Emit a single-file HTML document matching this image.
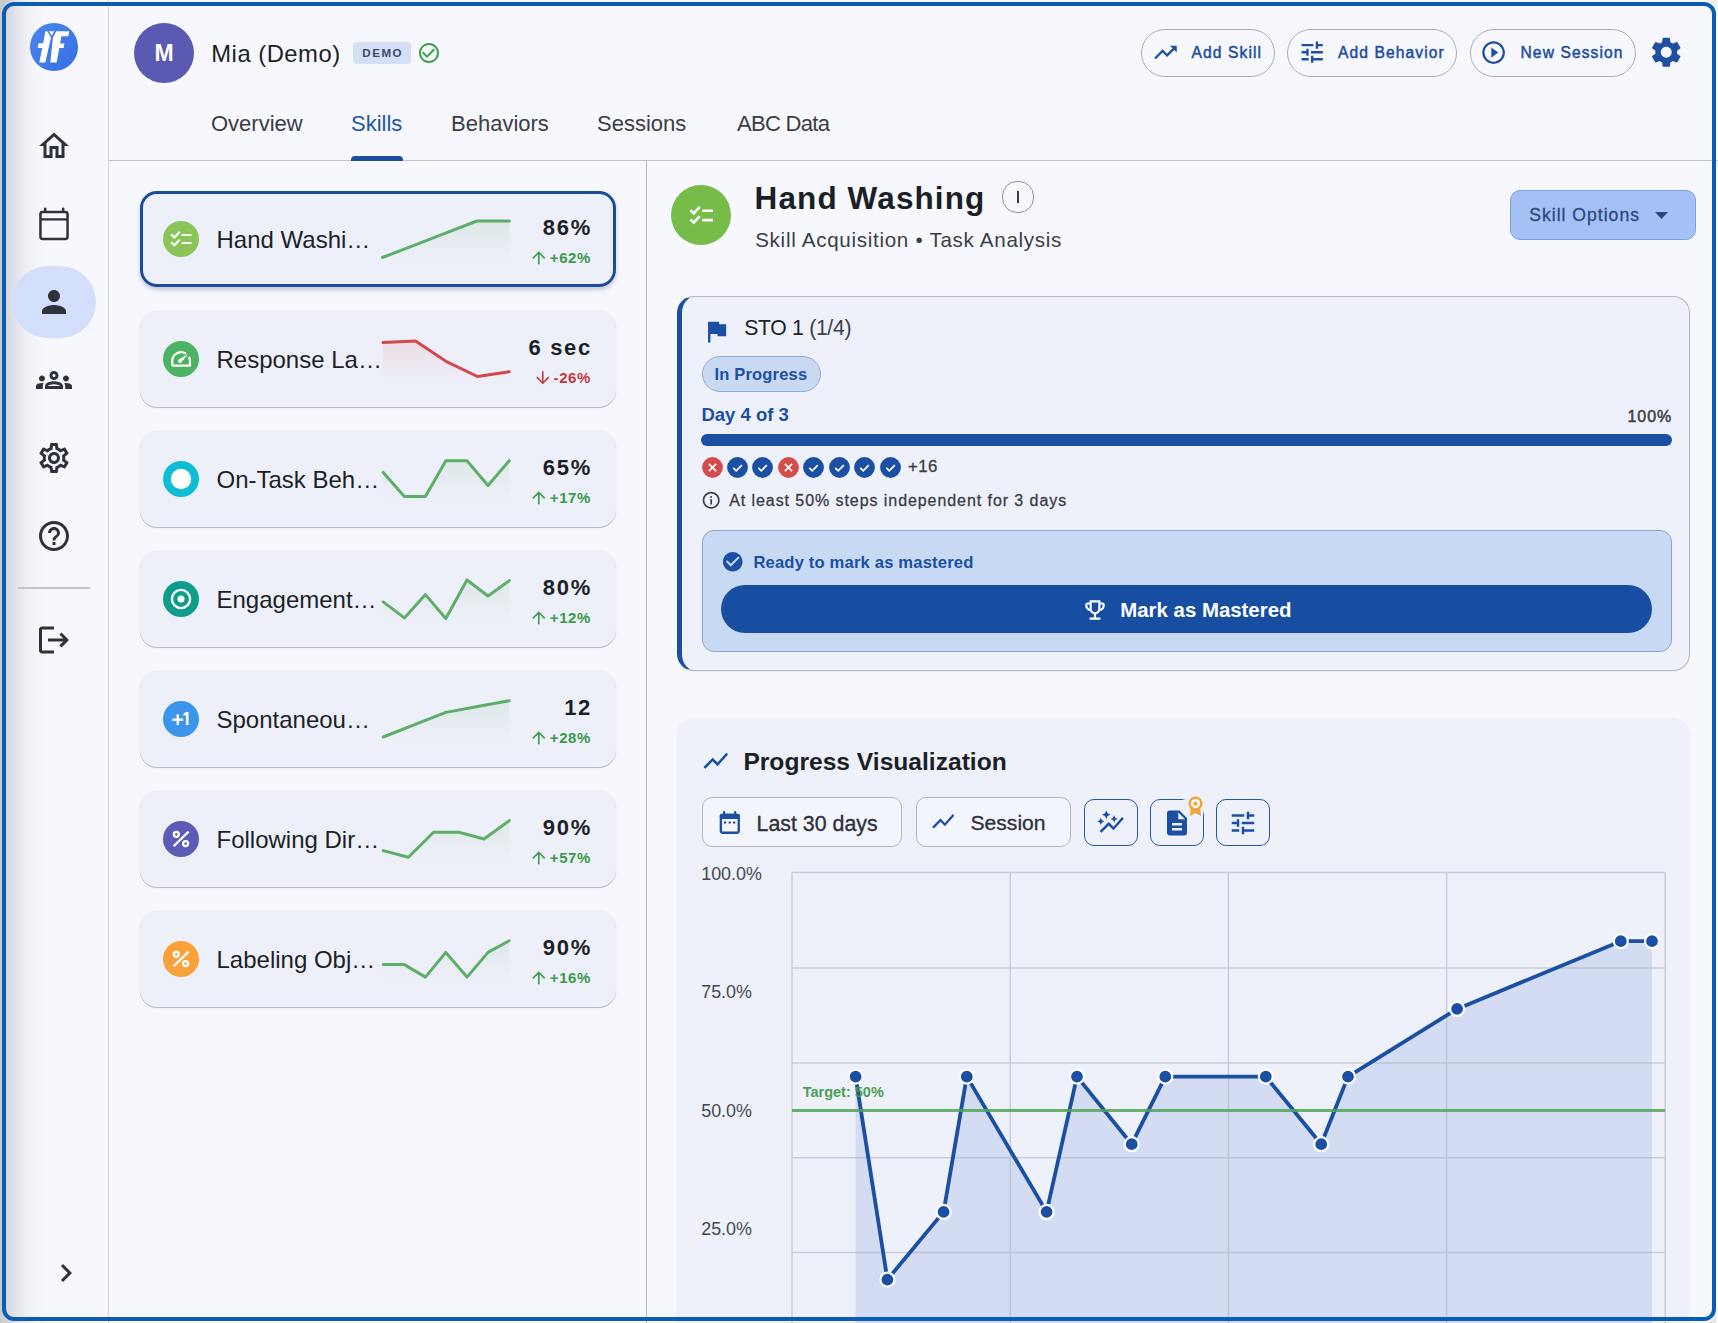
<!DOCTYPE html>
<html><head><meta charset="utf-8">
<style>
*{box-sizing:border-box;margin:0;padding:0}
html,body{width:1718px;height:1323px;overflow:hidden;background:#f7f8fd;font-family:"Liberation Sans",sans-serif;color:#1c1f26}
.abs{position:absolute}
#frame{position:absolute;left:2px;top:2px;width:1714px;height:1319px;border:4px solid #0a5cb6;border-radius:12px;pointer-events:none;z-index:50}

#sidebar{position:absolute;left:0;top:0;width:109px;height:1323px;border-right:1px solid #d3d6de;background:linear-gradient(90deg,#d6d3e0 5px,#dedde6 12px,#e6e7ee 19px,#eef0f6 27px,#f4f5fb 35px,#f7f8fd 44px)}
.sico{position:absolute;left:36px;width:36px;height:36px}
#header{position:absolute;left:109px;top:0;right:0;height:161px;border-bottom:1.5px solid #c0c3cc}
.tab{position:absolute;top:112.5px;font-size:22px;line-height:22px;color:#3a3d45;white-space:nowrap}
.hbtn{position:absolute;top:29.2px;height:47.4px;border:1.7px solid #abaeb7;border-radius:24px;color:#1f4f9e;font-size:15.6px;line-height:15.6px;-webkit-text-stroke:0.5px #1f4f9e;letter-spacing:1.1px}
.hbtn span{position:absolute;top:14.4px}
.hbtn svg{position:absolute}
#divider{position:absolute;left:645.9px;top:161px;width:1.2px;height:1162px;background:#b6b8c6}


.t{position:absolute;line-height:1;white-space:nowrap}
/*CARDCSS*/
.card{position:absolute;left:139.6px;width:476.3px;height:96px;border-radius:17px;background:#eef0f9;box-shadow:0 1px 0.6px rgba(70,75,100,0.32),0 1px 3px rgba(70,75,100,0.07),0 0 1px rgba(70,75,100,0.08)}
.card.sel{box-shadow:inset 0 0 0 3px #1a4b9d,0 3px 4px rgba(40,45,70,0.22)}
.card .ic{position:absolute;left:23.9px;top:30px;width:36px;height:36px;border-radius:50%;color:#fff;text-align:center;font-weight:bold}
.card .tt{position:absolute;left:76.9px;top:35px;font-size:24px;line-height:28px;color:#1c1f26;white-space:nowrap}
.card .val{position:absolute;right:23.9px;top:24px;font-size:22px;line-height:26px;font-weight:bold;color:#1c1f26;letter-spacing:1.7px}
.card .chg{position:absolute;right:24.9px;top:57.5px;font-size:15px;line-height:18px;font-weight:bold;color:#3a9a4a;letter-spacing:0.6px}
.card .chg svg{position:absolute;left:-21px;top:-1px}
.card .chg.red{color:#c4393b}
.card svg.spark{position:absolute;left:0.4px;top:0;width:475px;height:96px;overflow:visible}
/*/CARDCSS*/
</style></head>
<body>

<div id="sidebar">
<svg class="abs" style="left:24px;top:18px" width="60" height="60" viewBox="0 0 60 60">
<defs><linearGradient id="lg" x1="0" y1="0" x2="1" y2="1"><stop offset="0" stop-color="#4a86ec"/><stop offset="1" stop-color="#3570e4"/></linearGradient></defs>
<circle cx="30" cy="29" r="24" fill="url(#lg)"/>
<polygon fill="#fff" points="21.3,13.3 23.2,13.3 27.0,19.5 21.3,44.6 15.3,44.6 18.2,30 13.6,30 14.6,25.2 19.2,25.2"/>
<polygon fill="#fff" points="24.8,13.3 30.3,13.3 27.7,17.6"/>
<polygon fill="#fff" points="32.2,13.3 45.2,13.3 44.2,18.3 37.4,18.3 36.1,25.4 40.4,25.4 39.5,30 35.3,30 32.7,44.6 26.3,44.6 28.9,20"/>
</svg>
<svg class="sico" style="top:128px;width:36px;height:36px" viewBox="0 0 24 24"><path fill="#2e323c" d="M12 5.69l5 4.5V18h-2v-6H9v6H7v-7.81l5-4.5M12 3L2 12h3v8h6v-6h2v6h6v-8h3L12 3z"/></svg>
<svg class="abs" style="left:34px;top:202px" width="40" height="44" viewBox="0 0 40 44"><rect x="6.45" y="10.05" width="27.1" height="26.9" rx="2.2" fill="none" stroke="#2e323c" stroke-width="2.5"/><path d="M6.45 17.4H33.55" stroke="#2e323c" stroke-width="2.3"/><rect x="9.9" y="5.4" width="2.5" height="4.5" rx="1.2" fill="#2e323c"/><rect x="27.9" y="5.4" width="2.5" height="4.5" rx="1.2" fill="#2e323c"/></svg>
<div class="abs" style="left:12px;top:266px;width:84px;height:72px;border-radius:36px;background:#d3defa"></div>
<svg class="sico" style="top:284px;width:36px;height:36px" viewBox="0 0 24 24"><path fill="#2e323c" d="M12 12c2.21 0 4-1.79 4-4s-1.79-4-4-4-4 1.79-4 4 1.79 4 4 4zm0 2c-2.67 0-8 1.34-8 4v2h16v-2c0-2.66-5.33-4-8-4z"/></svg>
<svg class="sico" style="top:362px;width:36px;height:36px" viewBox="0 0 24 24"><path fill="#2e323c" d="M4 13c1.1 0 2-.9 2-2s-.9-2-2-2-2 .9-2 2 .9 2 2 2zm1.13 1.1c-.37-.06-.74-.1-1.13-.1-.99 0-1.93.21-2.78.58C.48 14.9 0 15.62 0 16.43V18h4.5v-1.61c0-.83.23-1.61.63-2.290zM20 13c1.1 0 2-.9 2-2s-.9-2-2-2-2 .9-2 2 .9 2 2 2zm4 3.43c0-.81-.48-1.530-1.220-1.850-.85-.37-1.790-.58-2.780-.58-.39 0-.76.04-1.130.1.4.68.63 1.460.63 2.290V18H24v-1.57zm-7.76-2.78c-1.17-.52-2.610-.9-4.240-.9-1.63 0-3.070.39-4.240.9C6.68 14.13 6 15.21 6 16.39V18h12v-1.61c0-1.18-.68-2.260-1.760-2.740zM8.07 16c.09-.23.13-.39.91-.69.97-.38 1.99-.56 3.02-.56s2.05.18 3.02.56c.77.3.81.46.91.69H8.070zM12 8c.55 0 1 .45 1 1s-.45 1-1 1-1-.45-1-1 .45-1 1-1m0-2c-1.66 0-3 1.34-3 3s1.34 3 3 3 3-1.34 3-3-1.34-3-3-3z"/></svg>
<svg class="sico" style="top:440px;width:36px;height:36px" viewBox="0 0 24 24"><path fill="#2e323c" d="M19.43 12.98c.04-.32.07-.64.07-.98 0-.34-.03-.66-.07-.98l2.11-1.65c.19-.15.24-.42.12-.64l-2-3.46c-.09-.16-.26-.25-.44-.25-.06 0-.12.01-.17.03l-2.49 1c-.52-.4-1.08-.73-1.69-.98l-.38-2.65C14.46 2.18 14.25 2 14 2h-4c-.25 0-.46.18-.49.42l-.38 2.65c-.61.25-1.170.59-1.690.98l-2.49-1c-.06-.02-.12-.03-.18-.03-.17 0-.34.09-.43.25l-2 3.46c-.13.22-.07.49.12.64l2.11 1.65c-.04.32-.07.65-.07.98 0 .33.03.66.07.98l-2.11 1.65c-.19.15-.24.42-.12.64l2 3.46c.09.16.26.25.44.25.06 0 .12-.01.17-.03l2.49-1c.52.4 1.08.73 1.69.98l.38 2.65c.03.24.24.42.49.42h4c.25 0 .46-.18.49-.42l.38-2.65c.61-.25 1.17-.59 1.69-.98l2.49 1c.06.02.12.03.18.03.17 0 .34-.09.43-.25l2-3.46c.12-.22.07-.49-.12-.64l-2.11-1.65zm-1.98-1.71c.04.31.05.52.05.73 0 .21-.02.43-.05.73l-.14 1.13.89.7 1.08.84-.7 1.21-1.27-.51-1.04-.42-.9.68c-.43.32-.84.56-1.25.73l-1.06.43-.16 1.13-.2 1.35h-1.4l-.19-1.35-.16-1.13-1.06-.43c-.43-.18-.83-.41-1.23-.71l-.91-.7-1.06.43-1.27.51-.7-1.21 1.08-.84.89-.7-.14-1.13c-.03-.31-.05-.54-.05-.74s.02-.43.05-.73l.14-1.13-.89-.7-1.08-.84.7-1.21 1.27.51 1.04.42.9-.68c.43-.32.84-.56 1.25-.73l1.06-.43.16-1.13.2-1.35h1.39l.19 1.35.16 1.13 1.06.43c.43.18.83.41 1.23.71l.91.7 1.06-.43 1.27-.51.7 1.21-1.07.85-.89.7.14 1.13zM12 8c-2.21 0-4 1.79-4 4s1.79 4 4 4 4-1.79 4-4-1.79-4-4-4zm0 6c-1.1 0-2-.9-2-2s.9-2 2-2 2 .9 2 2-.9 2-2 2z"/></svg>
<svg class="sico" style="top:518px;width:36px;height:36px" viewBox="0 0 24 24"><path fill="#2e323c" d="M11 18h2v-2h-2v2zm1-16C6.48 2 2 6.48 2 12s4.48 10 10 10 10-4.48 10-10S17.52 2 12 2zm0 18c-4.41 0-8-3.59-8-8s3.59-8 8-8 8 3.59 8 8-3.59 8-8 8zm0-14c-2.21 0-4 1.79-4 4h2c0-1.1.9-2 2-2s2 .9 2 2c0 2-3 1.75-3 5h2c0-2.25 3-2.5 3-5 0-2.21-1.79-4-4-4z"/></svg>
<div class="abs" style="left:18px;top:587px;width:72px;height:1.5px;background:#c2c5cd"></div>
<svg class="sico" style="top:622px;width:36px;height:36px" viewBox="0 0 24 24"><path fill="#2e323c" d="M17 7l-1.41 1.41L18.17 11H8v2h10.17l-2.58 2.580L17 17l5-5zM4 5h8V3H4c-1.1 0-2 .9-2 2v14c0 1.1.9 2 2 2h8v-2H4V5z"/></svg>
<svg class="sico" style="left:48px;top:1255px;width:36px;height:36px" viewBox="0 0 24 24"><path fill="#2e323c" d="M10 6L8.59 7.41 13.17 12l-4.58 4.59L10 18l6-6z"/></svg>
</div>

<div id="header">
<div class="abs" style="left:25px;top:23px;width:60px;height:60px;border-radius:50%;background:#5a5ab3;color:#fff;font-weight:bold;font-size:23px;text-align:center;line-height:61px">M</div>
<div class="abs" style="left:102.3px;top:41.8px;font-size:23.8px;line-height:24px;letter-spacing:0.5px;color:#1c1f26;white-space:nowrap">Mia (Demo)</div>
<div class="abs" style="left:244px;top:42.3px;width:58px;height:21.5px;border-radius:4px;background:#d4def6;color:#3d4a66;font-weight:bold;font-size:11.6px;letter-spacing:1.5px;text-indent:1.5px;text-align:center;line-height:22px">DEMO</div>
<svg class="abs" style="left:308px;top:41px" width="24" height="24" viewBox="0 0 24 24" fill="#3aa047"><path d="M16.59 7.58L10 14.17l-3.59-3.58L5 12l5 5 8-8zM12 2C6.48 2 2 6.48 2 12s4.48 10 10 10 10-4.48 10-10S17.52 2 12 2zm0 18c-4.42 0-8-3.58-8-8s3.58-8 8-8 8 3.58 8 8-3.58 8-8 8z"/></svg>
<div class="tab" style="left:102px">Overview</div>
<div class="tab" style="left:242px;color:#1f56a8">Skills</div>
<div class="tab" style="left:342px">Behaviors</div>
<div class="tab" style="left:488px">Sessions</div>
<div class="tab" style="left:628px;letter-spacing:-0.7px">ABC Data</div>
<div class="abs" style="left:242px;top:156px;width:52px;height:4.8px;border-radius:4px 4px 0 0;background:#1b4f9f"></div>
</div>
<div class="hbtn" style="left:1141px;width:134px"><svg style="left:10.3px;top:9px" width="27" height="27" viewBox="0 0 24 24" fill="#1f4f9e"><path d="M16 6l2.29 2.29-4.88 4.88-4-4L2 16.59 3.41 18l6-6 4 4 6.3-6.29L22 12V6z"/></svg><span style="left:49.5px">Add Skill</span></div>
<div class="hbtn" style="left:1287px;width:170px"><svg style="left:9.7px;top:8.3px" width="28.4" height="28.4" viewBox="0 0 24 24" fill="#1f4f9e"><path d="M3 17v2h6v-2H3zM3 5v2h10V5H3zm10 16v-2h8v-2h-8v-2h-2v6h2zM7 9v2H3v2h4v2h2V9H7zm14 4v-2H11v2h10zm-6-4h2V7h4V5h-4V3h-2v6z"/></svg><span style="left:50px">Add Behavior</span></div>
<div class="hbtn" style="left:1470px;width:166px"><svg style="left:9.2px;top:8.5px" width="27.2" height="27.2" viewBox="0 0 24 24" fill="#1f4f9e"><path d="M10 16.5l6-4.5-6-4.5v9zM12 2C6.48 2 2 6.48 2 12s4.48 10 10 10 10-4.48 10-10S17.52 2 12 2zm0 18c-4.41 0-8-3.59-8-8s3.59-8 8-8 8 3.59 8 8-3.59 8-8 8z"/></svg><span style="left:49.5px">New Session</span></div>
<svg class="abs" style="left:1647.8px;top:34.4px" width="36.5" height="36.5" viewBox="0 0 24 24" fill="#1f4f9e"><path d="M19.14 12.94c.04-.3.06-.61.06-.94 0-.32-.02-.64-.07-.94l2.03-1.58c.18-.14.23-.41.12-.61l-1.92-3.32c-.12-.22-.37-.29-.59-.22l-2.39.96c-.5-.38-1.03-.7-1.62-.94l-.36-2.54c-.04-.24-.24-.41-.48-.41h-3.84c-.24 0-.43.17-.47.41l-.36 2.54c-.59.24-1.13.57-1.62.94l-2.39-.96c-.22-.08-.47 0-.59.22L2.74 8.87c-.12.21-.08.47.12.61l2.03 1.58c-.05.3-.09.63-.09.94s.02.64.07.94l-2.03 1.58c-.18.14-.23.41-.12.61l1.92 3.32c.12.22.37.29.59.22l2.39-.96c.5.38 1.03.7 1.62.94l.36 2.54c.05.24.24.41.48.41h3.84c.24 0 .44-.17.47-.41l.36-2.54c.59-.24 1.13-.56 1.62-.94l2.39.96c.22.08.47 0 .59-.22l1.92-3.32c.12-.22.07-.47-.12-.61l-2.01-1.58zM12 15.6c-1.98 0-3.6-1.62-3.6-3.6s1.62-3.6 3.6-3.6 3.6 1.62 3.6 3.6-1.62 3.6-3.6 3.6z"/></svg>

<div id="divider"></div>
<!--CARDS-->
<div class="card sel" style="top:191px">
<div class="ic" style="background:#8bc55a"><svg width="36" height="36" viewBox="0 0 36 36"><g fill="none" stroke="#fff" stroke-width="2.1"><path d="M8.2 13.4l3.3 3 5.2-5.6"/><path d="M8.2 21.2l3.3 3 5.2-5.6"/><path d="M18.6 14h9.8M18.6 22h9.8"/></g></svg></div>
<div class="tt">Hand Washi…</div>
<svg class="spark"><defs><linearGradient id="sg0" x1="0" y1="0" x2="0" y2="1"><stop offset="0" stop-color="#5eae69" stop-opacity="0.12"/><stop offset="1" stop-color="#5eae69" stop-opacity="0"/></linearGradient></defs><path d="M242.4 66.5 L274.0 54.3 L305.5 42.2 L337.0 30.0 L369.5 30.0 L369.5 70 L242.4 70 Z" fill="url(#sg0)"/><path d="M242.4 66.5 L274.0 54.3 L305.5 42.2 L337.0 30.0 L369.5 30.0" fill="none" stroke="#5eae69" stroke-width="3" stroke-linejoin="round" stroke-linecap="round"/></svg>
<div class="val">86%</div>
<div class="chg"><svg width="19.5" height="19.5" viewBox="0 0 24 24"><path fill="currentColor" d="M4 12l1.41 1.41L11 7.83V20h2V7.83l5.58 5.59L20 12l-8-8-8 8z"/></svg>+62%</div>
</div>
<div class="card " style="top:311px">
<div class="ic" style="background:#4db262"><svg width="36" height="36" viewBox="0 0 36 36"><path d="M9.2 24.7V20.2A8.9 8.9 0 0 1 22.95 12.74M25.81 15.75A8.9 8.9 0 0 1 27 20.2V24.7H9.2" fill="none" stroke="#fff" stroke-width="2.2" stroke-linejoin="round"/><path fill="#fff" d="M15.7 18.6L25.2 12.9L18.1 21.4A1.8 1.8 0 0 1 15.7 18.6Z"/></svg></div>
<div class="tt">Response La…</div>
<svg class="spark"><defs><linearGradient id="sg1" x1="0" y1="0" x2="0" y2="1"><stop offset="0" stop-color="#cf4a4c" stop-opacity="0.12"/><stop offset="1" stop-color="#cf4a4c" stop-opacity="0"/></linearGradient></defs><path d="M243.0 31.6 L275.5 30.0 L306.0 50.3 L337.5 65.5 L369.2 60.8 L369.2 70 L243.0 70 Z" fill="url(#sg1)"/><path d="M243.0 31.6 L275.5 30.0 L306.0 50.3 L337.5 65.5 L369.2 60.8" fill="none" stroke="#cf4a4c" stroke-width="3" stroke-linejoin="round" stroke-linecap="round"/></svg>
<div class="val">6 sec</div>
<div class="chg red"><svg width="19.5" height="19.5" viewBox="0 0 24 24"><path fill="currentColor" d="M20 12l-1.41-1.41L13 16.17V4h-2v12.17l-5.58-5.59L4 12l8 8 8-8z"/></svg>-26%</div>
</div>
<div class="card " style="top:431px">
<div class="ic" style="background:#0fbcd6"><svg width="36" height="36" viewBox="0 0 36 36"><circle cx="18" cy="18" r="10.2" fill="#fff"/></svg></div>
<div class="tt">On-Task Beh…</div>
<svg class="spark"><defs><linearGradient id="sg2" x1="0" y1="0" x2="0" y2="1"><stop offset="0" stop-color="#5eae69" stop-opacity="0.12"/><stop offset="1" stop-color="#5eae69" stop-opacity="0"/></linearGradient></defs><path d="M243.2 41.4 L264.4 65.5 L285.4 65.5 L305.8 29.7 L327.0 29.7 L348.0 54.5 L369.2 29.7 L369.2 70 L243.2 70 Z" fill="url(#sg2)"/><path d="M243.2 41.4 L264.4 65.5 L285.4 65.5 L305.8 29.7 L327.0 29.7 L348.0 54.5 L369.2 29.7" fill="none" stroke="#5eae69" stroke-width="3" stroke-linejoin="round" stroke-linecap="round"/></svg>
<div class="val">65%</div>
<div class="chg"><svg width="19.5" height="19.5" viewBox="0 0 24 24"><path fill="currentColor" d="M4 12l1.41 1.41L11 7.83V20h2V7.83l5.58 5.59L20 12l-8-8-8 8z"/></svg>+17%</div>
</div>
<div class="card " style="top:551px">
<div class="ic" style="background:#0f9d8b"><svg width="36" height="36" viewBox="0 0 36 36"><circle cx="18" cy="18" r="9.1" fill="none" stroke="#fff" stroke-width="2.4"/><circle cx="18" cy="18" r="3.5" fill="#fff"/></svg></div>
<div class="tt">Engagement…</div>
<svg class="spark"><defs><linearGradient id="sg3" x1="0" y1="0" x2="0" y2="1"><stop offset="0" stop-color="#5eae69" stop-opacity="0.12"/><stop offset="1" stop-color="#5eae69" stop-opacity="0"/></linearGradient></defs><path d="M243.2 50.9 L264.4 66.9 L285.4 43.6 L305.8 67.5 L327.0 29.0 L348.0 45.0 L369.2 29.7 L369.2 70 L243.2 70 Z" fill="url(#sg3)"/><path d="M243.2 50.9 L264.4 66.9 L285.4 43.6 L305.8 67.5 L327.0 29.0 L348.0 45.0 L369.2 29.7" fill="none" stroke="#5eae69" stroke-width="3" stroke-linejoin="round" stroke-linecap="round"/></svg>
<div class="val">80%</div>
<div class="chg"><svg width="19.5" height="19.5" viewBox="0 0 24 24"><path fill="currentColor" d="M4 12l1.41 1.41L11 7.83V20h2V7.83l5.58 5.59L20 12l-8-8-8 8z"/></svg>+12%</div>
</div>
<div class="card " style="top:671px">
<div class="ic" style="background:#3d94eb"><svg width="36" height="36" viewBox="0 0 36 36"><g fill="#fff"><rect x="9.4" y="17.5" width="10.8" height="2.4"/><rect x="13.6" y="13.3" width="2.4" height="10.8"/><path d="M22.9 11h2.6v13.1h-2.6V14.1l-2.4 0.9v-2.3z"/></g></svg></div>
<div class="tt">Spontaneou…</div>
<svg class="spark"><defs><linearGradient id="sg4" x1="0" y1="0" x2="0" y2="1"><stop offset="0" stop-color="#5eae69" stop-opacity="0.12"/><stop offset="1" stop-color="#5eae69" stop-opacity="0"/></linearGradient></defs><path d="M243.2 66.0 L274.6 53.7 L305.8 41.4 L337.5 35.5 L369.2 29.7 L369.2 70 L243.2 70 Z" fill="url(#sg4)"/><path d="M243.2 66.0 L274.6 53.7 L305.8 41.4 L337.5 35.5 L369.2 29.7" fill="none" stroke="#5eae69" stroke-width="3" stroke-linejoin="round" stroke-linecap="round"/></svg>
<div class="val">12</div>
<div class="chg"><svg width="19.5" height="19.5" viewBox="0 0 24 24"><path fill="currentColor" d="M4 12l1.41 1.41L11 7.83V20h2V7.83l5.58 5.59L20 12l-8-8-8 8z"/></svg>+28%</div>
</div>
<div class="card " style="top:791px">
<div class="ic" style="background:#5c5bb6"><svg width="36" height="36" viewBox="0 0 36 36"><g fill="none" stroke="#fff" stroke-width="2.3"><circle cx="13.3" cy="13.3" r="2.5"/><circle cx="22.6" cy="22.6" r="2.5"/><path d="M10.6 25.2L25.6 10.6"/></g></svg></div>
<div class="tt">Following Dir…</div>
<svg class="spark"><defs><linearGradient id="sg5" x1="0" y1="0" x2="0" y2="1"><stop offset="0" stop-color="#5eae69" stop-opacity="0.12"/><stop offset="1" stop-color="#5eae69" stop-opacity="0"/></linearGradient></defs><path d="M243.2 59.6 L268.4 66.3 L293.6 41.3 L318.8 41.3 L344.0 48.0 L369.2 29.7 L369.2 70 L243.2 70 Z" fill="url(#sg5)"/><path d="M243.2 59.6 L268.4 66.3 L293.6 41.3 L318.8 41.3 L344.0 48.0 L369.2 29.7" fill="none" stroke="#5eae69" stroke-width="3" stroke-linejoin="round" stroke-linecap="round"/></svg>
<div class="val">90%</div>
<div class="chg"><svg width="19.5" height="19.5" viewBox="0 0 24 24"><path fill="currentColor" d="M4 12l1.41 1.41L11 7.83V20h2V7.83l5.58 5.59L20 12l-8-8-8 8z"/></svg>+57%</div>
</div>
<div class="card " style="top:911px">
<div class="ic" style="background:#f9a23c"><svg width="36" height="36" viewBox="0 0 36 36"><g fill="none" stroke="#fff" stroke-width="2.3"><circle cx="13.3" cy="13.3" r="2.5"/><circle cx="22.6" cy="22.6" r="2.5"/><path d="M10.6 25.2L25.6 10.6"/></g></svg></div>
<div class="tt">Labeling Obj…</div>
<svg class="spark"><defs><linearGradient id="sg6" x1="0" y1="0" x2="0" y2="1"><stop offset="0" stop-color="#5eae69" stop-opacity="0.12"/><stop offset="1" stop-color="#5eae69" stop-opacity="0"/></linearGradient></defs><path d="M243.2 53.6 L264.4 53.6 L285.4 66.1 L305.8 41.4 L327.0 66.1 L348.0 41.4 L369.2 29.7 L369.2 70 L243.2 70 Z" fill="url(#sg6)"/><path d="M243.2 53.6 L264.4 53.6 L285.4 66.1 L305.8 41.4 L327.0 66.1 L348.0 41.4 L369.2 29.7" fill="none" stroke="#5eae69" stroke-width="3" stroke-linejoin="round" stroke-linecap="round"/></svg>
<div class="val">90%</div>
<div class="chg"><svg width="19.5" height="19.5" viewBox="0 0 24 24"><path fill="currentColor" d="M4 12l1.41 1.41L11 7.83V20h2V7.83l5.58 5.59L20 12l-8-8-8 8z"/></svg>+16%</div>
</div>
<!--/CARDS-->

<!--RIGHT-->
<div class="abs" style="left:671.4px;top:185px;width:60px;height:60px;border-radius:50%;background:#77bb48"></div>
<svg class="abs" style="left:670px;top:184px" width="62" height="62" viewBox="0 0 62 62"><g fill="none" stroke="#fff" stroke-width="2.6"><path d="M20.4 26.1l3.4 3.3 5.9-6.5"/><path d="M20.4 35.4l3.4 3.3 5.9-6.5"/><path d="M32.2 26.8h10.7M32.2 36.1h10.7"/></g></svg>
<div class="t " style="left:754.6px;top:182.6px;font-size:31.5px;font-weight:bold;color:#1c1f26;letter-spacing:1.1px">Hand Washing</div>
<div class="abs" style="left:1002px;top:180.6px;width:32px;height:32px;border-radius:15px;border:1.6px solid #909299"></div><div class="abs" style="left:1017px;top:191px;width:2px;height:12px;background:#3a3d45"></div>
<div class="t " style="left:755.2px;top:229.6px;font-size:20.6px;color:#3a3e48;letter-spacing:0.7px">Skill Acquisition • Task Analysis</div>
<div class="abs" style="left:1510px;top:189.5px;width:186px;height:50.5px;border-radius:10px;background:#a4c0f5;border:1.5px solid #7c9fe2"></div>
<div class="t " style="left:1529.2px;top:206.8px;font-size:17.6px;color:#28487e;letter-spacing:1.0px;-webkit-text-stroke:0.3px #28487e">Skill Options</div>
<svg class="abs" style="left:1655px;top:212px" width="13" height="7" viewBox="0 0 13 7"><path d="M0 0h13L6.5 7z" fill="#28487e"/></svg>
<div class="abs" style="left:677.3px;top:296.4px;width:1012.4px;height:374.4px;border-radius:17px;background:#eff1fa;border:1.5px solid #b4b8c3;border-left:5.5px solid #1a4fa3;box-shadow:0 1px 2px rgba(0,0,0,0.06)"></div>
<svg class="abs" style="left:701.7px;top:316.8px" width="29" height="29" viewBox="0 0 24 24" fill="#1a4fa3"><path d="M14.4 6L14 4H5v17h2v-7h5.6l.4 2h7V6z"/></svg>
<div class="t " style="left:744.2px;top:316.7px;font-size:21.2px;color:#1c1f26;letter-spacing:-0.3px">STO 1 <span style="color:#3d4049">(1/4)</span></div>
<div class="abs" style="left:702px;top:356.4px;width:119px;height:35.2px;border-radius:18px;background:#c8d9f1;border:1.2px solid #8dadde"></div>
<div class="t " style="left:714.4px;top:366.4px;font-size:16.5px;color:#1a4fa3;font-weight:bold;letter-spacing:0.2px">In Progress</div>
<div class="t " style="left:701.4px;top:405.9px;font-size:18.5px;color:#1a4fa3;font-weight:bold">Day 4 of 3</div>
<div class="t " style="right:45.7px;top:409.4px;font-size:16px;color:#3d4049;letter-spacing:1px;-webkit-text-stroke:0.5px #3d4049">100%</div>
<div class="abs" style="left:701.1px;top:434px;width:971px;height:11.8px;border-radius:6px;background:#1a4fa3"></div>
<svg class="abs" style="left:701.5px;top:456.7px" width="21" height="21" viewBox="0 0 21 21"><circle cx="10.5" cy="10.5" r="10.4" fill="#d44d4e"/><path d="M6.9 6.9l7.2 7.2M14.1 6.9l-7.2 7.2" stroke="#fff" stroke-width="1.7"/></svg>
<svg class="abs" style="left:726.8px;top:456.7px" width="21" height="21" viewBox="0 0 21 21"><circle cx="10.5" cy="10.5" r="10.4" fill="#1a4fa3"/><path d="M6.3 10.9l2.9 2.9 5.6-5.7" fill="none" stroke="#fff" stroke-width="1.7"/></svg>
<svg class="abs" style="left:752.3px;top:456.7px" width="21" height="21" viewBox="0 0 21 21"><circle cx="10.5" cy="10.5" r="10.4" fill="#1a4fa3"/><path d="M6.3 10.9l2.9 2.9 5.6-5.7" fill="none" stroke="#fff" stroke-width="1.7"/></svg>
<svg class="abs" style="left:777.8px;top:456.7px" width="21" height="21" viewBox="0 0 21 21"><circle cx="10.5" cy="10.5" r="10.4" fill="#d44d4e"/><path d="M6.9 6.9l7.2 7.2M14.1 6.9l-7.2 7.2" stroke="#fff" stroke-width="1.7"/></svg>
<svg class="abs" style="left:803.2px;top:456.7px" width="21" height="21" viewBox="0 0 21 21"><circle cx="10.5" cy="10.5" r="10.4" fill="#1a4fa3"/><path d="M6.3 10.9l2.9 2.9 5.6-5.7" fill="none" stroke="#fff" stroke-width="1.7"/></svg>
<svg class="abs" style="left:828.7px;top:456.7px" width="21" height="21" viewBox="0 0 21 21"><circle cx="10.5" cy="10.5" r="10.4" fill="#1a4fa3"/><path d="M6.3 10.9l2.9 2.9 5.6-5.7" fill="none" stroke="#fff" stroke-width="1.7"/></svg>
<svg class="abs" style="left:854.2px;top:456.7px" width="21" height="21" viewBox="0 0 21 21"><circle cx="10.5" cy="10.5" r="10.4" fill="#1a4fa3"/><path d="M6.3 10.9l2.9 2.9 5.6-5.7" fill="none" stroke="#fff" stroke-width="1.7"/></svg>
<svg class="abs" style="left:879.6px;top:456.7px" width="21" height="21" viewBox="0 0 21 21"><circle cx="10.5" cy="10.5" r="10.4" fill="#1a4fa3"/><path d="M6.3 10.9l2.9 2.9 5.6-5.7" fill="none" stroke="#fff" stroke-width="1.7"/></svg>
<div class="t " style="left:907.9px;top:459.3px;font-size:16.8px;color:#3a3d45;letter-spacing:0.5px;-webkit-text-stroke:0.3px #3a3d45">+16</div>
<svg class="abs" style="left:701.3px;top:490px" width="20.4" height="20.4" viewBox="0 0 24 24" fill="#3a3d45"><path d="M11 7h2v2h-2zm0 4h2v6h-2zm1-9C6.48 2 2 6.48 2 12s4.48 10 10 10 10-4.48 10-10S17.52 2 12 2zm0 18c-4.41 0-8-3.59-8-8s3.59-8 8-8 8 3.59 8 8-3.59 8-8 8z"/></svg>
<div class="t " style="left:729.2px;top:493.1px;font-size:16px;color:#3a3d45;letter-spacing:0.93px;-webkit-text-stroke:0.3px #3a3d45">At least 50% steps independent for 3 days</div>
<div class="abs" style="left:701.6px;top:530.2px;width:970.4px;height:122.3px;border-radius:12px;background:#c8daf3;border:1.3px solid #8aa4cd"></div>
<svg class="abs" style="left:721px;top:550px" width="23.5" height="23.5" viewBox="0 0 24 24" fill="#1a4fa3"><path d="M12 2C6.48 2 2 6.48 2 12s4.48 10 10 10 10-4.48 10-10S17.52 2 12 2zm-2 15l-5-5 1.41-1.41L10 14.17l7.59-7.59L19 8l-9 9z"/></svg>
<div class="t " style="left:753.4px;top:554.8px;font-size:16.6px;color:#1a4fa3;font-weight:bold;letter-spacing:0.17px">Ready to mark as mastered</div>
<div class="abs" style="left:720.8px;top:585.4px;width:931.7px;height:48px;border-radius:24px;background:#174ea2"></div>
<svg class="abs" style="left:1081.5px;top:596.5px" width="26" height="26" viewBox="0 0 24 24" fill="#fff"><path d="M19 5h-2V3H7v2H5c-1.1 0-2 .9-2 2v1c0 2.55 1.92 4.63 4.39 4.94.63 1.5 1.98 2.63 3.61 2.96V19H7v2h10v-2h-4v-3.1c1.63-.33 2.98-1.46 3.61-2.96C19.08 12.63 21 10.55 21 8V7c0-1.1-.9-2-2-2zM5 8V7h2v3.82C5.84 10.4 5 9.3 5 8zm7 6c-1.65 0-3-1.35-3-3V5h6v6c0 1.65-1.35 3-3 3zm7-6c0 1.3-.84 2.4-2 2.82V7h2v1z"/></svg>
<div class="t " style="left:1120.3px;top:599.7px;font-size:20.4px;color:#fff;font-weight:bold">Mark as Mastered</div>
<div class="abs" style="left:677.1px;top:718.1px;width:1013px;height:700px;border-radius:18px;background:#eef1fa;box-shadow:0 0 2px rgba(60,70,100,0.07)"></div>
<svg class="abs" style="left:701.4px;top:746.1px" width="29.5" height="29.5" viewBox="0 0 24 24" fill="#1a4fa3"><path d="M3.5 18.49l6-6.01 4 4L22 6.92l-1.41-1.41-7.09 7.97-4-4L2 16.99z"/></svg>
<div class="t " style="left:743.4px;top:750.4px;font-size:24.6px;color:#1c1f26;font-weight:bold">Progress Visualization</div>
<div class="abs" style="left:701.9px;top:797.3px;width:200.2px;height:49.4px;border-radius:10px;border:1.6px solid #b3b7c2;background:#f3f5fc"></div>
<svg class="abs" style="left:712px;top:806px" width="36" height="34" viewBox="0 0 36 34"><rect x="8.85" y="8.85" width="17.9" height="17.9" rx="2" fill="none" stroke="#1a4fa3" stroke-width="2.3"/><rect x="7.7" y="7.7" width="20.2" height="5.2" rx="2" fill="#1a4fa3"/><rect x="11.1" y="5.1" width="2.1" height="3.5" rx="0.8" fill="#1a4fa3"/><rect x="22.1" y="5.1" width="2.1" height="3.5" rx="0.8" fill="#1a4fa3"/><g fill="#2a3a6a"><rect x="11.9" y="15.4" width="2.2" height="2.2" rx="0.5"/><rect x="16.6" y="15.4" width="2.2" height="2.2" rx="0.5"/><rect x="21" y="15.4" width="2.2" height="2.2" rx="0.5"/></g></svg>
<div class="t " style="left:756.6px;top:813.5px;font-size:21.35px;color:#2e323c;-webkit-text-stroke:0.35px #2e323c">Last 30 days</div>
<div class="abs" style="left:915.7px;top:797.3px;width:155.1px;height:49.4px;border-radius:10px;border:1.6px solid #b3b7c2;background:#f3f5fc"></div>
<svg class="abs" style="left:929.8px;top:807.5px" width="26.5" height="26.5" viewBox="0 0 24 24" fill="#1a4fa3"><path d="M3.5 18.49l6-6.01 4 4L22 6.92l-1.41-1.41-7.09 7.97-4-4L2 16.99z"/></svg>
<div class="t " style="left:970.5px;top:812.4px;font-size:21.1px;color:#2e323c;-webkit-text-stroke:0.35px #2e323c">Session</div>
<div class="abs" style="left:1083.6px;top:799px;width:54px;height:47px;border-radius:10px;border:1.9px solid #2457a8"></div>
<div class="abs" style="left:1149.6px;top:799px;width:54px;height:47px;border-radius:10px;border:1.9px solid #2457a8"></div>
<div class="abs" style="left:1215.7px;top:799px;width:54px;height:47px;border-radius:10px;border:1.9px solid #2457a8"></div>
<svg class="abs" style="left:1096px;top:808px" width="29" height="29" viewBox="0 0 24 24" fill="#1a4fa3"><path d="M14.06 9.94L12 9l2.06-.94L15 6l.94 2.06L18 9l-2.06.94L15 12l-.94-2.06zM4 14l.94-2.06L7 11l-2.06-.94L4 8l-.94 2.06L1 11l2.06.94L4 14zm4.5-5l1.09-2.41L12 5.5 9.59 4.41 8.5 2 7.41 4.41 5 5.5l2.41 1.09L8.5 9zm-4 11.5l6-6.01 4 4L23 8.93l-1.41-1.41-7.09 7.97-4-4L3 19l1.5 1.5z"/></svg>
<svg class="abs" style="left:1161.6px;top:807.5px" width="30" height="30" viewBox="0 0 24 24" fill="#1a4fa3"><path d="M14 2H6c-1.1 0-1.99.9-1.99 2L4 20c0 1.1.89 2 1.99 2H18c1.1 0 2-.9 2-2V8l-6-6zm2 16H8v-2h8v2zm0-4H8v-2h8v2zm-3-5V3.5L18.5 9H13z"/></svg>
<div class="abs" style="left:1185px;top:793px;width:21px;height:21px;border-radius:50%;background:#eef1fa;box-shadow:0 0 3px 2px #eef1fa"></div>
<svg class="abs" style="left:1187px;top:796px" width="17" height="21" viewBox="0 0 17 21"><path d="M4 10l-1 10 5.5-3 5.5 3-1-10z" fill="#f2a33a"/><circle cx="8.5" cy="7.5" r="7" fill="#f2a33a"/><circle cx="8.5" cy="7.5" r="4.6" fill="#fff"/><path d="M8.5 4.4l.95 2 2.15.2-1.6 1.45.45 2.1-1.95-1.1-1.95 1.1.45-2.1-1.6-1.45 2.15-.2z" fill="#f2a33a"/></svg>
<svg class="abs" style="left:1227.6px;top:807.5px" width="30" height="30" viewBox="0 0 24 24" fill="#1a4fa3"><path d="M3 17v2h6v-2H3zM3 5v2h10V5H3zm10 16v-2h8v-2h-8v-2h-2v6h2zM7 9v2H3v2h4v2h2V9H7zm14 4v-2H11v2h10zm-6-4h2V7h4V5h-4V3h-2v6z"/></svg>
<svg class="abs" style="left:0;top:0" width="1718" height="1323">
<line x1="792" y1="872.4" x2="1665.2" y2="872.4" stroke="#c9ccd6" stroke-width="1.5"/>
<line x1="792" y1="967.9" x2="1665.2" y2="967.9" stroke="#c9ccd6" stroke-width="1.5"/>
<line x1="792" y1="1062.9" x2="1665.2" y2="1062.9" stroke="#c9ccd6" stroke-width="1.5"/>
<line x1="792" y1="1157.7" x2="1665.2" y2="1157.7" stroke="#c9ccd6" stroke-width="1.5"/>
<line x1="792" y1="1252.6" x2="1665.2" y2="1252.6" stroke="#c9ccd6" stroke-width="1.5"/>
<line x1="792" y1="1347.5" x2="1665.2" y2="1347.5" stroke="#c9ccd6" stroke-width="1.5"/>
<line x1="792" y1="872.4" x2="792" y2="1323" stroke="#c9ccd6" stroke-width="1.5"/>
<line x1="1010.3" y1="872.4" x2="1010.3" y2="1323" stroke="#c9ccd6" stroke-width="1.5"/>
<line x1="1228.4" y1="872.4" x2="1228.4" y2="1323" stroke="#c9ccd6" stroke-width="1.5"/>
<line x1="1446.6" y1="872.4" x2="1446.6" y2="1323" stroke="#c9ccd6" stroke-width="1.5"/>
<line x1="1665.2" y1="872.4" x2="1665.2" y2="1323" stroke="#c9ccd6" stroke-width="1.5"/>
<path d="M855.6 1076.6 L887.4 1279.6 L943.6 1211.9 L966.8 1076.6 L1046.6 1211.9 L1077.0 1076.6 L1131.7 1144.2 L1165.3 1076.6 L1265.8 1076.6 L1321.2 1144.2 L1348.0 1076.6 L1457.1 1008.9 L1620.8 941.2 L1652.0 941.2 L1652.0 1330 L855.6 1330 Z" fill="#a3b8e2" fill-opacity="0.36"/>
<path d="M855.6 1076.6 L887.4 1279.6 L943.6 1211.9 L966.8 1076.6 L1046.6 1211.9 L1077.0 1076.6 L1131.7 1144.2 L1165.3 1076.6 L1265.8 1076.6 L1321.2 1144.2 L1348.0 1076.6 L1457.1 1008.9 L1620.8 941.2 L1652.0 941.2" fill="none" stroke="#1a4fa3" stroke-width="3.8" stroke-linejoin="round"/>
<line x1="792" y1="1110.4" x2="1665.2" y2="1110.4" stroke="#4fa457" stroke-opacity="0.85" stroke-width="3"/>
</svg>
<div class="t " style="left:802.7px;top:1085.2px;font-size:14.5px;color:#3d9a48;font-weight:bold;opacity:0.92">Target: 50%</div>
<svg class="abs" style="left:0;top:0" width="1718" height="1323">
<circle cx="855.6" cy="1076.6" r="7" fill="#1a4fa3" stroke="#fff" stroke-width="2.2"/>
<circle cx="887.4" cy="1279.6" r="7" fill="#1a4fa3" stroke="#fff" stroke-width="2.2"/>
<circle cx="943.6" cy="1211.9" r="7" fill="#1a4fa3" stroke="#fff" stroke-width="2.2"/>
<circle cx="966.8" cy="1076.6" r="7" fill="#1a4fa3" stroke="#fff" stroke-width="2.2"/>
<circle cx="1046.6" cy="1211.9" r="7" fill="#1a4fa3" stroke="#fff" stroke-width="2.2"/>
<circle cx="1077.0" cy="1076.6" r="7" fill="#1a4fa3" stroke="#fff" stroke-width="2.2"/>
<circle cx="1131.7" cy="1144.2" r="7" fill="#1a4fa3" stroke="#fff" stroke-width="2.2"/>
<circle cx="1165.3" cy="1076.6" r="7" fill="#1a4fa3" stroke="#fff" stroke-width="2.2"/>
<circle cx="1265.8" cy="1076.6" r="7" fill="#1a4fa3" stroke="#fff" stroke-width="2.2"/>
<circle cx="1321.2" cy="1144.2" r="7" fill="#1a4fa3" stroke="#fff" stroke-width="2.2"/>
<circle cx="1348.0" cy="1076.6" r="7" fill="#1a4fa3" stroke="#fff" stroke-width="2.2"/>
<circle cx="1457.1" cy="1008.9" r="7" fill="#1a4fa3" stroke="#fff" stroke-width="2.2"/>
<circle cx="1620.8" cy="941.2" r="7" fill="#1a4fa3" stroke="#fff" stroke-width="2.2"/>
<circle cx="1652.0" cy="941.2" r="7" fill="#1a4fa3" stroke="#fff" stroke-width="2.2"/>
</svg>
<div class="t " style="left:701.2px;top:865.6px;font-size:17.9px;color:#444852">100.0%</div>
<div class="t " style="left:701.2px;top:984.0px;font-size:17.9px;color:#444852">75.0%</div>
<div class="t " style="left:701.2px;top:1102.8px;font-size:17.9px;color:#444852">50.0%</div>
<div class="t " style="left:701.2px;top:1221.3px;font-size:17.9px;color:#444852">25.0%</div>
<!--/RIGHT-->
<div id="frame"></div>
<div id="corners"><svg class="abs" style="left:0;top:0;z-index:51" width="1718" height="1323"><path d="M0 0H14A12 12 0 0 0 2 14V0Z" fill="#c6c6cb"/><path d="M0 1323H14A12 12 0 0 1 2 1309V1323Z" fill="#cfcfd4"/><path d="M1718 0H1704A12 12 0 0 1 1716 14V0Z" fill="#eeeef1"/><path d="M1718 1323H1704A12 12 0 0 0 1716 1309V1323Z" fill="#e6e6ea"/><rect x="0" y="0" width="2" height="1323" fill="#c9c9ce"/></svg></div>
</body></html>
